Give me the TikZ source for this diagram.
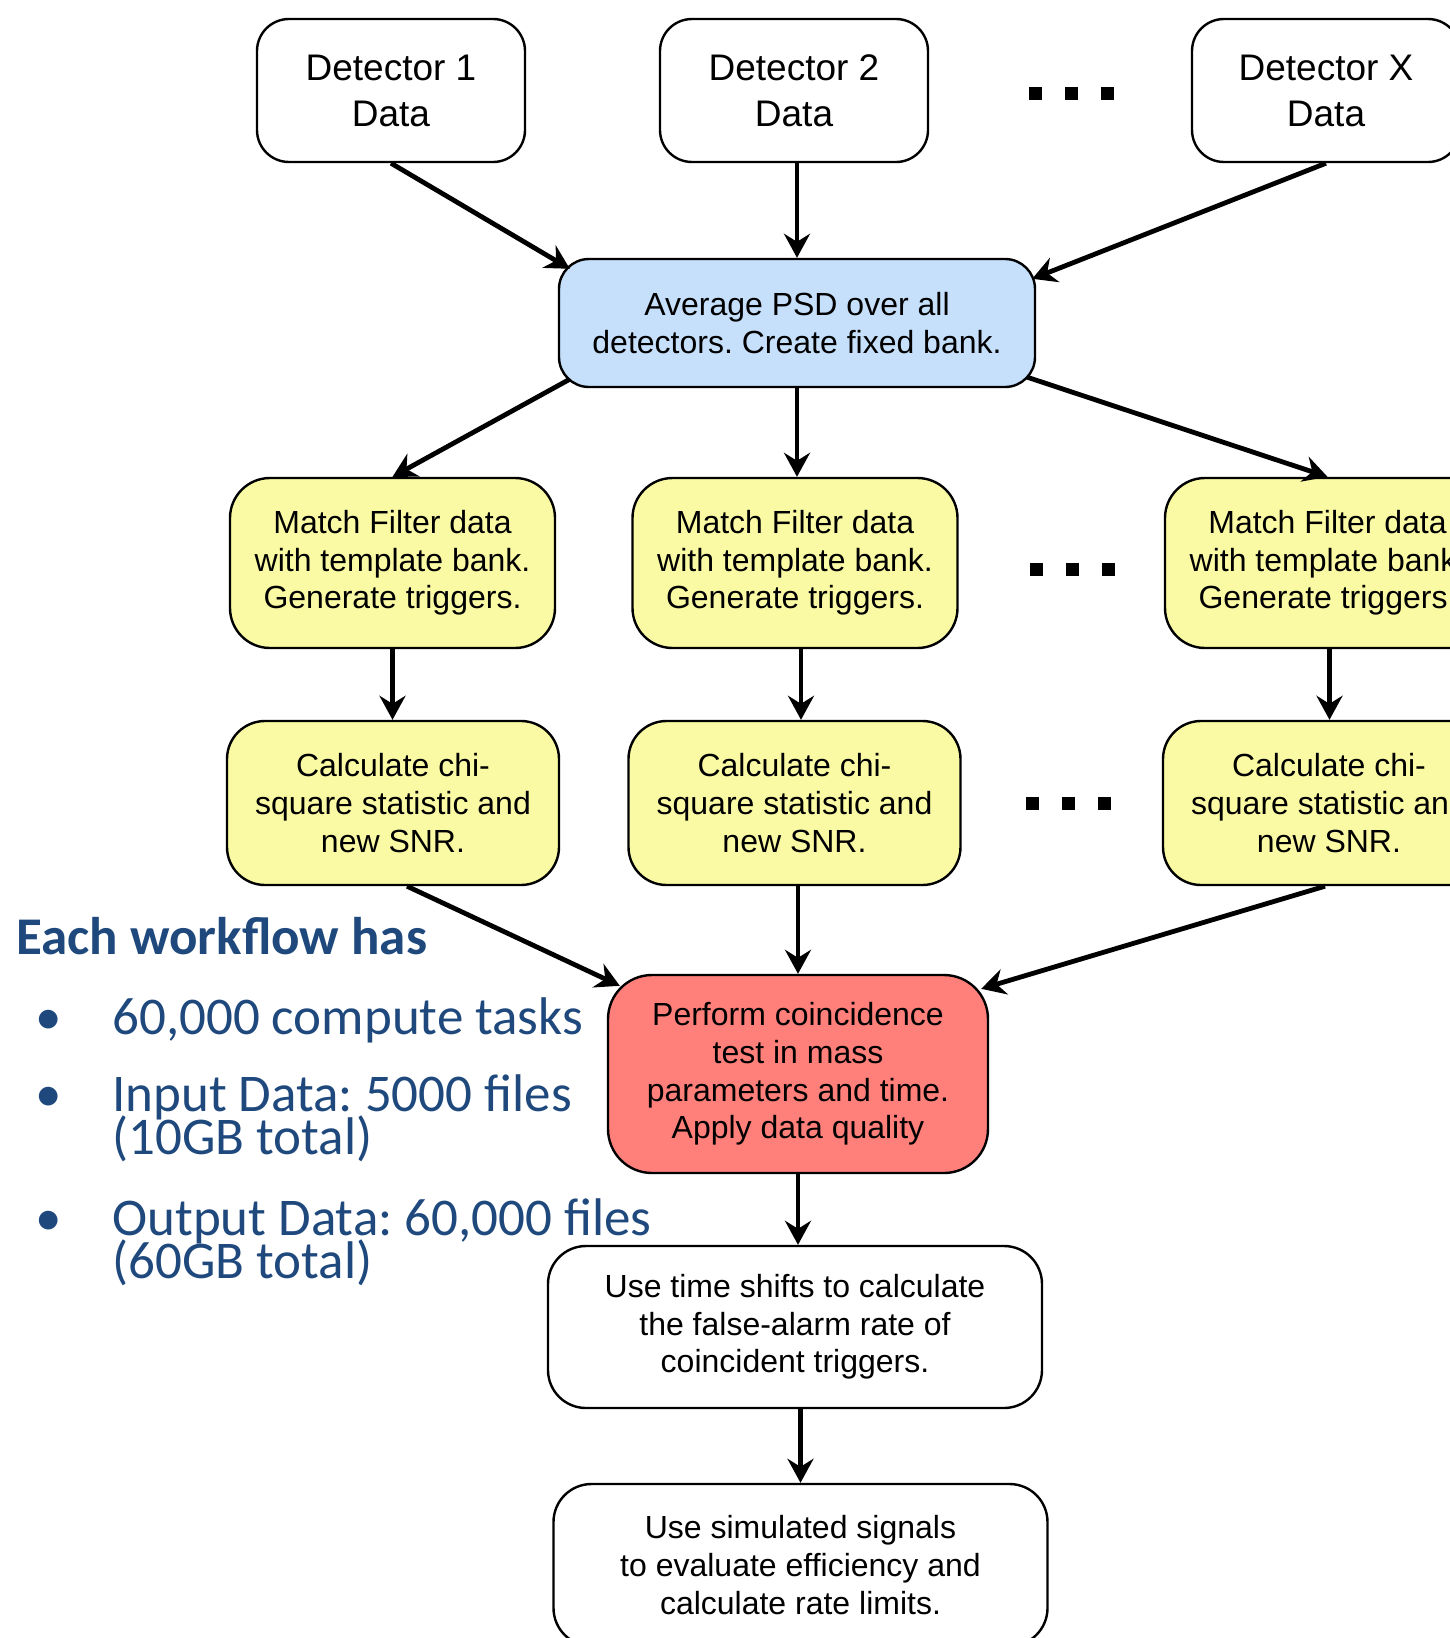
\documentclass[tikz,border=0pt]{standalone}
\usepackage{fontspec}
\setmainfont{Liberation Sans}
\newfontfamily\calfont{Carlito}
\usetikzlibrary{arrows.meta,calc}
\definecolor{psdblue}{RGB}{198,224,252}
\definecolor{mfyellow}{RGB}{251,250,164}
\definecolor{cored}{RGB}{255,128,122}
\definecolor{txtblue}{RGB}{31,73,125}
\frenchspacing
\begin{document}
\frenchspacing
\begin{tikzpicture}[x=0.5pt,y=-0.5pt,
  box/.style={draw=black, line width=1.2pt, rounded corners=18pt, align=center,
    inner sep=0pt, font=\frenchspacing\fontsize{16}{18.8}\selectfont},
  detbox/.style={box, fill=white, minimum width=134pt, minimum height=71.5pt,
    rounded corners=16pt, font=\fontsize{18.5}{23}\selectfont},
  psdbox/.style={box, fill=psdblue, minimum width=238pt, minimum height=64pt, rounded corners=15pt},
  mfbox/.style={box, fill=mfyellow, minimum width=162.5pt, minimum height=85pt, rounded corners=20pt},
  chibox/.style={box, fill=mfyellow, minimum width=166pt, minimum height=82pt, rounded corners=19pt},
  redbox/.style={box, fill=cored, minimum width=190pt, minimum height=99pt, rounded corners=22pt},
  wbox/.style={box, fill=white, minimum width=247pt, minimum height=81pt, rounded corners=19pt},
  dotsnode/.style={inner sep=0pt},
  conn/.style={line width=2.4pt, -{Stealth[length=12pt,width=13pt,inset=4pt]}},
  hdr/.style={anchor=base west, inner sep=0pt, text=txtblue,
    font=\frenchspacing\calfont\bfseries\fontsize{26.5}{26.5}\selectfont},
  item/.style={anchor=base west, inner sep=0pt, text=txtblue,
    font=\frenchspacing\calfont\fontsize{26.5}{26.5}\selectfont},
  bul/.style={anchor=base, inner sep=0pt, text=txtblue,
    font=\calfont\fontsize{26.5}{26.5}\selectfont},
]
\useasboundingbox (0,0) rectangle (1450,1638);
\clip (0,0) rectangle (1450,1638);

% detectors
\node[detbox] (det1) at (391,90.5) {Detector 1\\Data};
\node[detbox] (det2) at (794,90.5) {Detector 2\\Data};
\node[detbox] (detx) at (1326,90.5) {Detector X\\Data};
\newcommand{\tripledots}{\rule{6.5pt}{6.5pt}\hspace{11.5pt}\rule{6.5pt}{6.5pt}\hspace{11.5pt}\rule{6.5pt}{6.5pt}}
\node[dotsnode] (dots1) at (1071,93) {\tripledots};

% PSD
\node[psdbox] (psd) at (797,323) {Average PSD over all\\detectors. Create fixed bank.};

% match filter
\node[mfbox] (mf1) at (392.5,563) {Match Filter data\\with template bank.\\Generate triggers.};
\node[mfbox] (mf2) at (795,563) {Match Filter data\\with template bank.\\Generate triggers.};
\node[mfbox] (mf3) at (1327.5,563) {Match Filter data\\with template bank.\\Generate triggers.};
\node[dotsnode] (dots2) at (1072,569) {\tripledots};

% chi-square
\node[chibox] (chi1) at (393,803) {Calculate chi-\\square statistic and\\new SNR.};
\node[chibox] (chi2) at (794.5,803) {Calculate chi-\\square statistic and\\new SNR.};
\node[chibox] (chi3) at (1329,803) {Calculate chi-\\square statistic and\\new SNR.};
\node[dotsnode] (dots3) at (1068,803) {\tripledots};

% coincidence
\node[redbox] (red) at (798,1074) {Perform coincidence\\test in mass\\parameters and time.\\Apply data quality};
\node[wbox] (ts) at (795,1327) {Use time shifts to calculate\\the false-alarm rate of\\coincident triggers.};
\node[wbox] (sim) at (800.5,1565) {Use simulated signals\\to evaluate efficiency and\\calculate rate limits.};

% connectors
\draw[conn] (det1.south) -- ($(psd.north west)+(12,11)$);
\draw[conn] (det2.south -| psd.north) -- (psd.north);
\draw[conn] (detx.south) -- ($(psd.north east)+(-4,21)$);
\draw[conn] ($(psd.south west)+(12,-9)$) -- (mf1.north);
\draw[conn] (psd.south) -- (psd.south |- mf2.north);
\draw[conn] ($(psd.south east)+(-9,-11)$) -- (mf3.north);
\draw[conn] (mf1.south) -- (mf1.south |- chi1.north);
\draw[conn] ($(mf2.south)+(6,0)$) -- ($(mf2.south |- chi2.north)+(6,0)$);
\draw[conn] ($(mf3.south)+(2,0)$) -- ($(mf3.south |- chi3.north)+(2,0)$);
\draw[conn] ($(chi1.south)+(14,0)$) -- ($(red.north west)+(13,12)$);
\draw[conn] (red.north |- chi2.south) -- (red.north);
\draw[conn] ($(chi3.south)+(-4,0)$) -- ($(red.north east)+(-8,15)$);
\draw[conn] (red.south) -- (red.south |- ts.north);
\draw[conn] (sim.north |- ts.south) -- (sim.north);

% left text
\node[hdr] (head) at (16,954) {Each workflow has};
\node[bul] (b1) at (49,1034) {•};
\node[item] (i1) at (112,1034) {60,000 compute tasks};
\node[bul] (b2) at (49,1111) {•};
\node[item] (i2a) at (112,1111) {Input Data: 5000 files};
\node[item] (i2b) at (112,1154) {(10GB total)};
\node[bul] (b3) at (49,1235) {•};
\node[item] (i3a) at (112,1235) {Output Data: 60,000 files};
\node[item] (i3b) at (112,1278) {(60GB total)};
\end{tikzpicture}
\end{document}
